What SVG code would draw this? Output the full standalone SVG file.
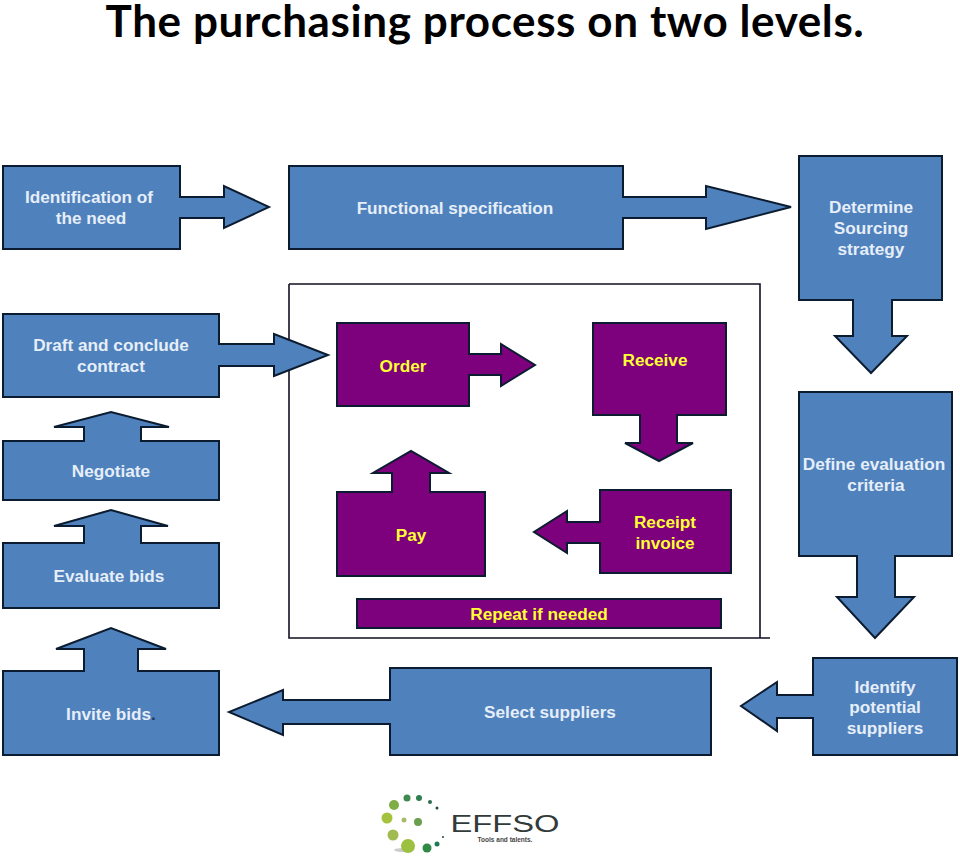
<svg xmlns="http://www.w3.org/2000/svg" width="960" height="860" viewBox="0 0 960 860">
<style>
.b{fill:#4f81bd;stroke:#0c1c30;stroke-width:2;stroke-linejoin:miter}
.p{fill:#7d007d;stroke:#0c1c30;stroke-width:2}
text{font-family:"Liberation Sans",Arial,sans-serif;font-weight:700;font-size:17.2px;text-anchor:middle}
.w{fill:#e6eef8}
.y{fill:#ffff33}
.l{fill:none;stroke:#111122;stroke-width:1.6}
</style>
<rect width="960" height="860" fill="#fff"/>
<text id="title" x="485" y="37" style="font-family:Lato,'Open Sans',sans-serif;font-size:44px;letter-spacing:0.6px;fill:#000">The purchasing process on two levels.</text>
<g id="frame"><path class="l" d="M289 284H760V638M289 284V638H770"/></g>
<g id="identification"><polygon class="b" points="3,166 180,166 180,197 224,197 224,186 269,207 224,228 224,218 180,218 180,249 3,249"/><text class="w" x="89" y="203">Identification of</text><text class="w" x="91" y="224">the need</text></g>
<g id="functional"><polygon class="b" points="289,166 623,166 623,197 706,197 706,186 791,207 706,229 706,218 623,218 623,249 289,249"/><text class="w" x="455" y="214">Functional specification</text></g>
<g id="sourcing"><polygon class="b" points="799,156 942,156 942,300 892,300 892,336 907,336 871,373 835,336 853,336 853,300 799,300"/><text class="w" x="871" y="213">Determine</text><text class="w" x="871" y="234">Sourcing</text><text class="w" x="871" y="255">strategy</text></g>
<g id="draft"><polygon class="b" points="3,314 219,314 219,344 274,344 274,334 328,355 274,376 274,366 219,366 219,397 3,397"/><text class="w" x="111" y="351">Draft and conclude</text><text class="w" x="111" y="372">contract</text></g>
<g id="order"><polygon class="p" points="337,323 469,323 469,354 501,354 501,344 535,365 501,386 501,375 469,375 469,406 337,406"/><text class="y" x="403" y="372">Order</text></g>
<g id="receive"><polygon class="p" points="593,323 726,323 726,415 677,415 677,443 693,443 659,461 625,443 640,443 640,415 593,415"/><text class="y" x="655" y="366">Receive</text></g>
<g id="negotiate"><polygon class="b" points="3,441 84,441 84,427 54,427 111,412 169,427 141,427 141,441 219,441 219,500 3,500"/><text class="w" x="111" y="477">Negotiate</text></g>
<g id="evaluate"><polygon class="b" points="3,543 84,543 84,526 54,526 111,510 168,526 141,526 141,543 219,543 219,608 3,608"/><text class="w" x="109" y="582">Evaluate bids</text></g>
<g id="invite"><polygon class="b" points="3,671 84,671 84,649 56,649 111,628 166,649 138,649 138,671 219,671 219,755 3,755"/><text class="w" x="111" y="720">Invite bids<tspan fill="#1f3864">.</tspan></text></g>
<g id="pay"><polygon class="p" points="337,492 392,492 392,473 373,473 411,451 449,473 430,473 430,492 485,492 485,576 337,576"/><text class="y" x="411" y="541">Pay</text></g>
<g id="receipt"><polygon class="p" points="600,490 731,490 731,573 600,573 600,543 567,543 567,553 534,532 567,511 567,522 600,522"/><text class="y" x="665" y="528">Receipt</text><text class="y" x="665" y="549">invoice</text></g>
<g id="define"><polygon class="b" points="799,392 952,392 952,556 895,556 895,597 914,597 875,638 837,597 857,597 857,556 799,556"/><text class="w" x="874" y="470">Define evaluation</text><text class="w" x="876" y="491">criteria</text></g>
<g id="select"><polygon class="b" points="390,668 711,668 711,755 390,755 390,724 283,724 283,735 229,712 283,690 283,700 390,700"/><text class="w" x="550" y="718">Select suppliers</text></g>
<g id="identify"><polygon class="b" points="813,658 957,658 957,755 813,755 813,718 777,718 777,731 741,706 777,682 777,695 813,695"/><text class="w" x="885" y="693">Identify</text><text class="w" x="885" y="713">potential</text><text class="w" x="885" y="734">suppliers</text></g>
<g id="repeat"><rect class="p" x="357" y="599" width="364" height="29"/><text class="y" x="539" y="620">Repeat if needed</text></g>
<g id="logo">
<ellipse cx="404" cy="850" rx="10" ry="2" fill="#ccc"/>
<circle cx="394" cy="805" r="5" fill="#7fae45"/>
<circle cx="407" cy="798" r="3.500" fill="#3f8a4f"/>
<circle cx="419" cy="798" r="3" fill="#2f7d50"/>
<circle cx="430" cy="802" r="2" fill="#2f6d50"/>
<circle cx="437" cy="808" r="1.500" fill="#1e4d3a"/>
<circle cx="387" cy="818" r="5.500" fill="#a4c23c"/>
<circle cx="404" cy="820" r="2.500" fill="#a9bb6a"/>
<circle cx="418" cy="822" r="4" fill="#6a9f50"/>
<circle cx="393" cy="835" r="5.500" fill="#a0bc50"/>
<circle cx="408" cy="846" r="7" fill="#9cc040"/>
<circle cx="427" cy="848" r="4.500" fill="#2f8a45"/>
<circle cx="437" cy="844" r="2.500" fill="#1f7a55"/>
<circle cx="443" cy="837" r="1" fill="#1e4d3a"/>
<text x="505" y="832" textLength="109" lengthAdjust="spacingAndGlyphs" style="font-size:23px;font-weight:400;fill:#333a3a">EFFSO</text>
<text x="505" y="842" style="font-size:6.500px;font-weight:700;fill:#444">Tools and talents.</text>
</g>
</svg>
